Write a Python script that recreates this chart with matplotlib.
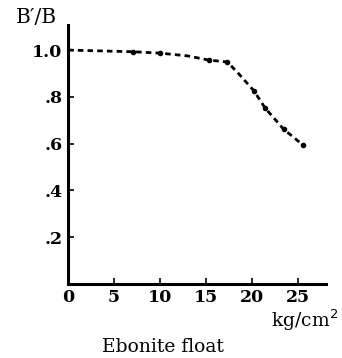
import matplotlib
matplotlib.use("Agg")
import matplotlib.pyplot as plt

pressure = [0, 3, 7, 10, 13, 15.3, 17.3, 18.5, 20.2, 21.4, 23.4, 25.5]
ratio = [1.0, 0.997, 0.993, 0.987, 0.975, 0.957, 0.949, 0.90, 0.825, 0.752, 0.662, 0.594]
marker_x = [7, 10, 15.3, 17.3, 20.2, 21.4, 23.4, 25.5]
marker_y = [0.993, 0.987, 0.957, 0.949, 0.825, 0.752, 0.662, 0.594]
xticks = [0, 5, 10, 15, 20, 25]
yticks = [0.2, 0.4, 0.6, 0.8, 1.0]
ylabels = [".2", ".4", ".6", ".8", "1.0"]

plt.rcParams['font.family'] = ['DejaVu Serif']
fig = plt.figure(figsize=(3.42, 3.58), dpi=100)
ax = fig.add_axes([0.199, 0.207, 0.754, 0.723])
ax.plot(pressure, ratio, color='black', lw=2.0, linestyle=(0, (2, 1.5)))
ax.plot(marker_x, marker_y, 'o', color='black', ms=3)
ax.set_xlim(0, 28)
ax.set_ylim(0, 1.107)
ax.spines['top'].set_visible(False)
ax.spines['right'].set_visible(False)
ax.spines['left'].set_linewidth(2.2)
ax.spines['bottom'].set_linewidth(2.2)
ax.set_xticks(xticks)
ax.set_xticklabels([str(v) for v in xticks], fontsize=12.5, fontweight='bold')
ax.set_yticks(yticks)
ax.set_yticklabels(ylabels, fontsize=12.5, fontweight='bold')
ax.tick_params(direction='in', length=4, width=1.2, pad=4)
fig.text(0.108, 0.951, "B\u2032/B", fontsize=14.5, ha='center', va='center')
fig.text(0.988, 0.106, "kg/cm$^2$", fontsize=13.5, ha='right', va='center')
fig.text(0.477, 0.032, "Ebonite float", fontsize=13.5, ha='center', va='center')
fig.savefig("out.png", dpi=100)
